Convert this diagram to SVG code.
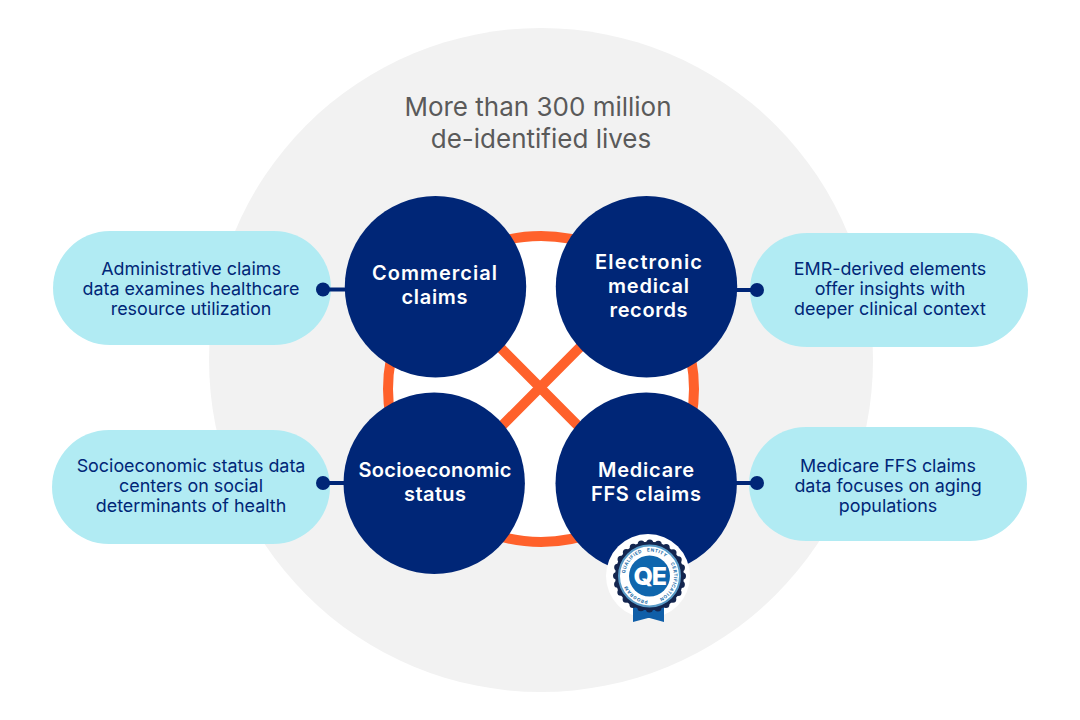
<svg xmlns="http://www.w3.org/2000/svg" width="1080" height="720" viewBox="0 0 1080 720">
<style>
text{font-family:"Inter","Noto Sans","Liberation Sans",sans-serif;text-anchor:middle}
.title{font-size:26px;fill:#5a5a5a;font-weight:400}
.node{fill:#002677}
.nl{font-size:20px;font-weight:600;fill:#fff}
.pill{fill:#b1ebf3}
.pl{font-size:17.9px;fill:#002677;font-weight:400}
.orange{fill:none;stroke:#ff612b;stroke-width:10}
.link{stroke:#002677;stroke-width:4;fill:none}
.dot{fill:#002677}
.seal{font-size:4.600px;font-weight:700;fill:#1a6ca8;letter-spacing:.5px}
</style>
<defs>
<path id="arc" d="M649.500 600.500a24.500 24.500 0 1 1 .01 0"/>
</defs>
<rect width="1080" height="720" fill="#fff"/>
<circle id="backdrop" cx="541" cy="360" r="332" fill="#f2f2f2"/>
<g id="title"><text class="title" x="538" y="116">More than 300 million</text><text class="title" x="541" y="148">de-identified lives</text></g>
<g id="connectors">
<circle class="orange" cx="541" cy="389" r="153" style="fill:#fff"/>
<path class="orange" d="M470 317L610 458M610 317L470 458"/>
</g>
<g id="pill-admin"><path class="pill" d="M110 231H274A57 57 0 0 1 274 345H110A57 57 0 0 1 110 231Z"/><path class="link" d="M323 289.500H350"/><circle class="dot" cx="323" cy="289.500" r="7"/>
<text class="pl" x="191" y="275">Administrative claims</text><text class="pl" x="191" y="295">data examines healthcare</text><text class="pl" x="191" y="315">resource utilization</text></g>
<g id="pill-emr"><path class="pill" d="M807 233H971A57 57 0 0 1 971 347H807A57 57 0 0 1 807 233Z"/><path class="link" d="M730 290H757"/><circle class="dot" cx="757" cy="290" r="7"/>
<text class="pl" x="890" y="275">EMR-derived elements</text><text class="pl" x="890" y="295">offer insights with</text><text class="pl" x="890" y="315">deeper clinical context</text></g>
<g id="pill-ses"><path class="pill" d="M109 430H273A57 57 0 0 1 273 544H109A57 57 0 0 1 109 430Z"/><path class="link" d="M323 483H350"/><circle class="dot" cx="323" cy="483" r="7"/>
<text class="pl" x="191" y="472">Socioeconomic status data</text><text class="pl" x="191" y="492">centers on social</text><text class="pl" x="191" y="512">determinants of health</text></g>
<g id="pill-medicare"><path class="pill" d="M806 427H970A57 57 0 0 1 970 541H806A57 57 0 0 1 806 427Z"/><path class="link" d="M730 483H757"/><circle class="dot" cx="757" cy="483" r="7"/>
<text class="pl" x="888" y="472">Medicare FFS claims</text><text class="pl" x="888" y="492">data focuses on aging</text><text class="pl" x="888" y="512">populations</text></g>
<g id="node-commercial"><circle class="node" cx="435.500" cy="286.700" r="90.700"/><text class="nl" x="434.500" y="280" textLength="125">Commercial</text><text class="nl" x="434.500" y="304" textLength="66">claims</text></g>
<g id="node-emr"><circle class="node" cx="646.500" cy="286.700" r="90.700"/><text class="nl" x="648.500" y="269" textLength="107">Electronic</text><text class="nl" x="648.500" y="293" textLength="81">medical</text><text class="nl" x="648.500" y="317" textLength="78">records</text></g>
<g id="node-ses"><circle class="node" cx="434.200" cy="483.300" r="90.700"/><text class="nl" x="435" y="477" textLength="153">Socioeconomic</text><text class="nl" x="435" y="501" textLength="62">status</text></g>
<g id="node-medicare"><circle class="node" cx="646.200" cy="483.300" r="90.700"/><text class="nl" x="646" y="477" textLength="96">Medicare</text><text class="nl" x="646" y="501" textLength="110">FFS claims</text></g>
<g id="badge">
<circle cx="648" cy="576" r="42" fill="#fff"/>
<path d="M633 605V622L648 618L649.500 618L664 622V605Z" fill="#0f5ea8"/>
<circle cx="649.500" cy="576" r="34.500" fill="#14264f"/>
<circle cx="649.500" cy="576" r="33" fill="none" stroke="#14264f" stroke-width="7" stroke-linecap="round" stroke-dasharray="0 8.639"/>
<circle cx="649.500" cy="576" r="30.500" fill="#fff" stroke="#5a9cc8" stroke-width="2"/>
<circle cx="649.500" cy="576" r="20.500" fill="#0f66ad"/>
<text x="649.500" y="585" style="font-size:25px;font-weight:800;fill:#fff;letter-spacing:-1.500px">QE</text>
<text class="seal"><textPath href="#arc" startOffset="10%">PROGRAM</textPath></text>
<text class="seal"><textPath href="#arc" startOffset="36%">QUALIFIED</textPath></text>
<text class="seal"><textPath href="#arc" startOffset="55%">ENTITY</textPath></text>
<text class="seal"><textPath href="#arc" startOffset="80%">CERTIFICATION</textPath></text>
</g>
</svg>
